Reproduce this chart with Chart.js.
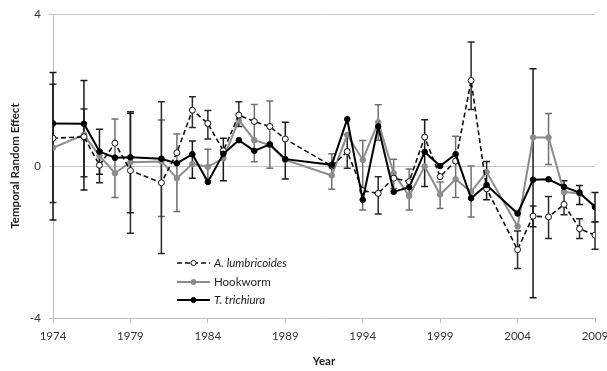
<!DOCTYPE html>
<html>
<head>
<meta charset="utf-8">
<script src="https://cdn.jsdelivr.net/npm/chart.js@4.4.1/dist/chart.umd.min.js"></script>
<style>
  html, body { margin: 0; background: #fff; }
</style>
</head>
<body>
<canvas id="chart" width="607" height="371"></canvas>
<script>
// years with an estimate
const years = [1974, 1976, 1977, 1978, 1979, 1981, 1982, 1983, 1984, 1985, 1986, 1987, 1988, 1989, 1992, 1993,
  1994, 1995, 1996, 1997, 1998, 1999, 2000, 2001, 2002, 2004, 2005, 2006, 2007, 2008, 2009];

// temporal random effect per species
const lumbricoides = [0.73, 0.77, 0.02, 0.60, -0.12, -0.44, 0.35, 1.47, 1.12, 0.40, 1.34, 1.17, 1.04, 0.71, 0.0, 0.38,
  -0.65, -0.72, -0.32, -0.41, 0.76, -0.28, 0.13, 2.25, -0.6, -2.20, -1.32, -1.34, -1.01, -1.65, -1.82];
const hookworm = [0.48, 0.82, 0.27, -0.19, 0.1, 0.12, -0.32, 0.05, -0.02, 0.2, 1.21, 0.68, 0.55, 0.16, -0.25, 0.82,
  0.16, 1.15, -0.19, -0.79, -0.01, -0.75, -0.35, -0.68, -0.16, -1.59, 0.75, 0.75, -0.68, -0.73, -1.05];
const trichiura = [1.12, 1.11, 0.38, 0.22, 0.23, 0.19, 0.07, 0.31, -0.42, 0.32, 0.68, 0.40, 0.57, 0.18, 0.03, 1.23,
  -0.89, 1.04, -0.68, -0.56, 0.37, 0.0, 0.31, -0.85, -0.5, -1.25, -0.36, -0.35, -0.55, -0.70, -1.08];

// interval bounds (null = no bar shown)
const lumbLo = [-0.96, -0.28, -0.44, null, -1.77, -2.30, null, 1.01, 0.71, null, 1.04, null, null, null, null, -0.06,
  null, -1.26, null, null, null, null, null, 1.49, null, -2.70, -1.6, -1.91, -1.28, -1.91, -2.19];
const lumbHi = [2.15, 1.5, 0.4, null, 1.43, 1.69, null, 1.82, 1.46, null, 1.69, null, null, null, null, 0.82,
  null, -0.28, null, null, null, null, null, 3.26, null, -1.71, -1.05, -0.8, -0.39, -1.39, -1.47];
const hookLo = [null, null, null, -0.83, null, -1.33, -1.20, null, -0.32, null, null, 0.11, -0.06, null, -0.61, null,
  -1.16, 0.68, -0.59, -1.16, null, -1.12, -0.83, -1.34, null, null, null, 0.04, null, null, null];
const hookHi = [null, null, null, 1.24, null, 1.21, 0.84, null, 0.44, null, null, 1.62, 1.71, null, 0.32, null,
  0.67, 1.61, 0.18, -0.08, null, -0.42, 0.78, 0.0, null, null, null, 1.38, null, null, null];
const trichLo = [-1.42, -0.63, -0.22, null, -1.23, null, null, -0.32, null, -0.39, null, null, null, -0.34, null, null,
  null, null, null, null, -0.54, null, null, null, -0.89, null, -3.47, null, null, -1.01, -1.47];
const trichHi = [2.46, 2.25, 0.97, null, 1.39, null, null, 0.66, null, 0.73, null, null, null, 1.15, null, null,
  null, null, null, null, 1.22, null, null, null, 0.12, null, 2.56, null, null, -0.51, -0.70];

const yTicks = [-4, 0, 4];

const toPoints = arr => years.map((yr, i) => ({ x: yr, y: arr[i] }));

const barSets = [
  { lo: hookLo, hi: hookHi, color: '#707070' },
  { lo: lumbLo, hi: lumbHi, color: '#2a2a2a' },
  { lo: trichLo, hi: trichHi, color: '#1a1a1a' }
];

// error bars, drawn under the lines
const errorBars = {
  id: 'errorBars',
  beforeDatasetsDraw(chart) {
    const { ctx, scales: { x, y } } = chart;
    ctx.save();
    ctx.lineWidth = 1.5;
    barSets.forEach(s => {
      ctx.strokeStyle = s.color;
      years.forEach((yr, i) => {
        if (s.lo[i] == null) return;
        const px = x.getPixelForValue(yr);
        const top = y.getPixelForValue(s.hi[i]);
        const bot = y.getPixelForValue(s.lo[i]);
        ctx.beginPath();
        ctx.moveTo(px, top); ctx.lineTo(px, bot);
        ctx.moveTo(px - 3.5, top); ctx.lineTo(px + 3.5, top);
        ctx.moveTo(px - 3.5, bot); ctx.lineTo(px + 3.5, bot);
        ctx.stroke();
      });
    });
    ctx.restore();
  }
};

// legend box inside the plot, like the original
const legendInside = {
  id: 'legendInside',
  afterDraw(chart) {
    const ctx = chart.ctx;
    const items = [
      { text: 'A. lumbricoides', italic: true, ds: chart.data.datasets[0], y: 263 },
      { text: 'Hookworm', italic: false, ds: chart.data.datasets[1], y: 282 },
      { text: 'T. trichiura', italic: true, ds: chart.data.datasets[2], y: 300 }
    ];
    ctx.save();
    items.forEach(it => {
      ctx.strokeStyle = it.ds.borderColor;
      ctx.lineWidth = it.ds.borderWidth;
      ctx.setLineDash(it.ds.borderDash || []);
      ctx.beginPath();
      ctx.moveTo(177, it.y); ctx.lineTo(210, it.y);
      ctx.stroke();
      ctx.setLineDash([]);
      ctx.beginPath();
      ctx.arc(193.5, it.y, 2.6, 0, Math.PI * 2);
      ctx.fillStyle = it.ds.pointBackgroundColor;
      ctx.fill();
      ctx.lineWidth = 1;
      ctx.strokeStyle = it.ds.pointBorderColor;
      ctx.stroke();
      ctx.fillStyle = '#222';
      ctx.font = (it.italic ? 'italic ' : '') + '11.5px Lato';
      ctx.textBaseline = 'middle';
      ctx.fillText(it.text, 214, it.y + 0.5);
    });
    ctx.restore();
  }
};

const ctx = document.getElementById('chart').getContext('2d');
const chart = new Chart(ctx, {
  type: 'scatter',
  data: {
    datasets: [
      {
        label: 'A. lumbricoides',
        data: toPoints(lumbricoides),
        showLine: true,
        borderColor: '#111',
        borderWidth: 1.6,
        borderDash: [5, 3],
        pointBackgroundColor: '#fff',
        pointBorderColor: '#111',
        pointBorderWidth: 1,
        pointRadius: 3,
        order: 1
      },
      {
        label: 'Hookworm',
        data: toPoints(hookworm),
        showLine: true,
        borderColor: '#8c8c8c',
        borderWidth: 2,
        pointBackgroundColor: '#8c8c8c',
        pointBorderColor: '#8c8c8c',
        pointBorderWidth: 1,
        pointRadius: 2.8,
        order: 2
      },
      {
        label: 'T. trichiura',
        data: toPoints(trichiura),
        showLine: true,
        borderColor: '#000',
        borderWidth: 2,
        pointBackgroundColor: '#000',
        pointBorderColor: '#000',
        pointBorderWidth: 1,
        pointRadius: 2.8,
        order: 0
      }
    ]
  },
  options: {
    responsive: false,
    animation: false,
    layout: { padding: { top: 14, right: 12, left: 0, bottom: 0 } },
    plugins: {
      legend: { display: false },
      tooltip: { enabled: false }
    },
    scales: {
      x: {
        type: 'linear',
        min: 1974,
        max: 2009,
        afterFit: s => { s.height = 53; s.paddingRight = 0; s.paddingLeft = 0; },
        ticks: {
          stepSize: 5,
          callback: v => String(v),
          font: { family: 'Lato', size: 11.5 },
          color: '#333',
          padding: 6,
          maxRotation: 0
        },
        grid: { drawOnChartArea: false, drawTicks: true, tickLength: 5, color: '#bfbfbf' },
        border: { color: '#bfbfbf', width: 1 },
        title: {
          display: true,
          text: 'Year',
          font: { family: 'Lato', size: 11.5, weight: 'bold' },
          color: '#222',
          padding: { top: 0, bottom: 3 }
        }
      },
      y: {
        min: -4,
        max: 4,
        afterFit: s => { s.width = 53; s.paddingTop = 0; s.paddingBottom = 0; },
        afterBuildTicks: s => { s.ticks = yTicks.map(v => ({ value: v })); },
        ticks: {
          font: { family: 'Lato', size: 11.5 },
          color: '#333',
          padding: 8
        },
        grid: { color: '#c4c4c4', tickLength: 4, lineWidth: 1 },
        border: { color: '#bfbfbf', width: 1 },
        title: {
          display: true,
          text: 'Temporal Random Effect',
          font: { family: 'Lato', size: 11.5, weight: 'bold' },
          color: '#222',
          padding: { top: 8, bottom: 0 }
        }
      }
    }
  },
  plugins: [errorBars, legendInside]
});
</script>
</body>
</html>
